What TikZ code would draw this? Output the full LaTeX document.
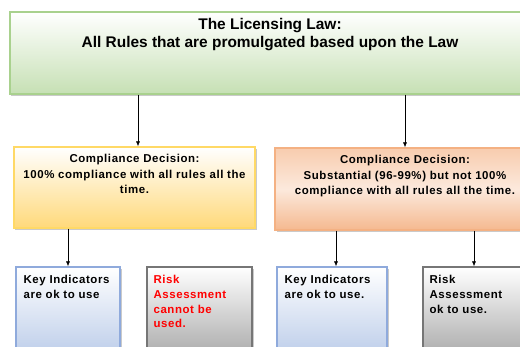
\documentclass[tikz,border=0pt]{standalone}
\usepackage{fontspec}
\setmainfont{Liberation Sans}
\newfontfamily\spacedfont[LetterSpace=5]{Liberation Sans}
\usetikzlibrary{positioning,arrows.meta,shadows}
\definecolor{lawline}{HTML}{A9D18E}
\definecolor{lawfill}{HTML}{C6E0B4}
\definecolor{fullline}{HTML}{FFD966}
\definecolor{fullfill}{HTML}{FFD97A}
\definecolor{partline}{HTML}{F4B183}
\definecolor{partfill}{HTML}{F4B183}
\definecolor{keyline}{HTML}{8FAADC}
\definecolor{keyfill}{HTML}{B4C7E7}
\definecolor{riskline}{HTML}{767676}
\definecolor{riskfill}{HTML}{A0A0A0}
\tikzset{
  panel/.style={draw=#1line, line width=1.2bp, top color=white, bottom color=#1fill,
    minimum width=100bp, minimum height=100bp,
    drop shadow={shadow xshift=1.5bp, shadow yshift=-1.5bp, opacity=0.35, fill=black!60}},
  titletext/.style={inner sep=0pt, align=center, font=\fontsize{15.5}{18}\selectfont\bfseries},
  decisiontext/.style={inner sep=0pt, align=center, font=\spacedfont\fontsize{11.5}{15.5}\selectfont\bfseries},
  boxtext/.style={inner sep=0pt, align=left, font=\spacedfont\fontsize{11.5}{14.7}\selectfont\bfseries},
  arr/.style={-{Latex[length=5bp,width=4bp]}, line width=0.6bp}
}
\begin{document}
\begin{tikzpicture}[x=1bp,y=-1bp]
\clip (0,0) rectangle (520,346);
% law on top
\node[panel=law, minimum width=520bp, minimum height=82bp] (law) at (270,53) {};
\node[titletext, below=7bp of law.north] (lawtext)
  {The Licensing Law:\\All Rules that are promulgated based upon the Law};
% the two decisions
\node[panel=full, minimum width=241bp, minimum height=81bp] (full) at (134.5,187.5) {};
\node[decisiontext, below=8bp of full.north] (fulltext)
  {Compliance Decision:\\100\% compliance with all rules all the\\time.};
\node[panel=part, top color=partfill!65, bottom color=partfill!90, middle color=partfill!28,
  minimum width=260bp, minimum height=82bp] (part) at (405,189) {};
\node[decisiontext, below=8bp of part.north] (parttext)
  {Compliance Decision:\\Substantial (96-99\%) but not 100\%\\compliance with all rules all the time.};
% indicators and risk
\node[panel=key, minimum width=104bp] (keyA) at (68,317) {};
\node[panel=risk, minimum width=105bp] (riskA) at (199.5,317) {};
\node[panel=key, minimum width=110bp] (keyB) at (332,317) {};
\node[panel=risk, minimum width=110bp] (riskB) at (478,317) {};
\node[boxtext, below right=9bp and 8bp of keyA.north west, anchor=north west] (keyAtext)
  {Key Indicators\\are ok to use};
\node[boxtext, text=red, below right=9bp and 7bp of riskA.north west, anchor=north west] (riskAtext)
  {Risk\\Assessment\\cannot be\\used.};
\node[boxtext, below right=9bp and 8bp of keyB.north west, anchor=north west] (keyBtext)
  {Key Indicators\\are ok to use.};
\node[boxtext, below right=9bp and 7bp of riskB.north west, anchor=north west] (riskBtext)
  {Risk\\Assessment\\ok to use.};
% connectors
\draw[arr] (law.south -| 138,0) -- (full.north -| 138,0);
\draw[arr] (law.south -| part.north) -- (part.north);
\draw[arr] (full.south -| keyA.north) -- (keyA.north);
\draw[arr] (part.south -| 336,0) -- (keyB.north -| 336,0);
\draw[arr] (part.south -| 474,0) -- (riskB.north -| 474,0);
\end{tikzpicture}
\end{document}
